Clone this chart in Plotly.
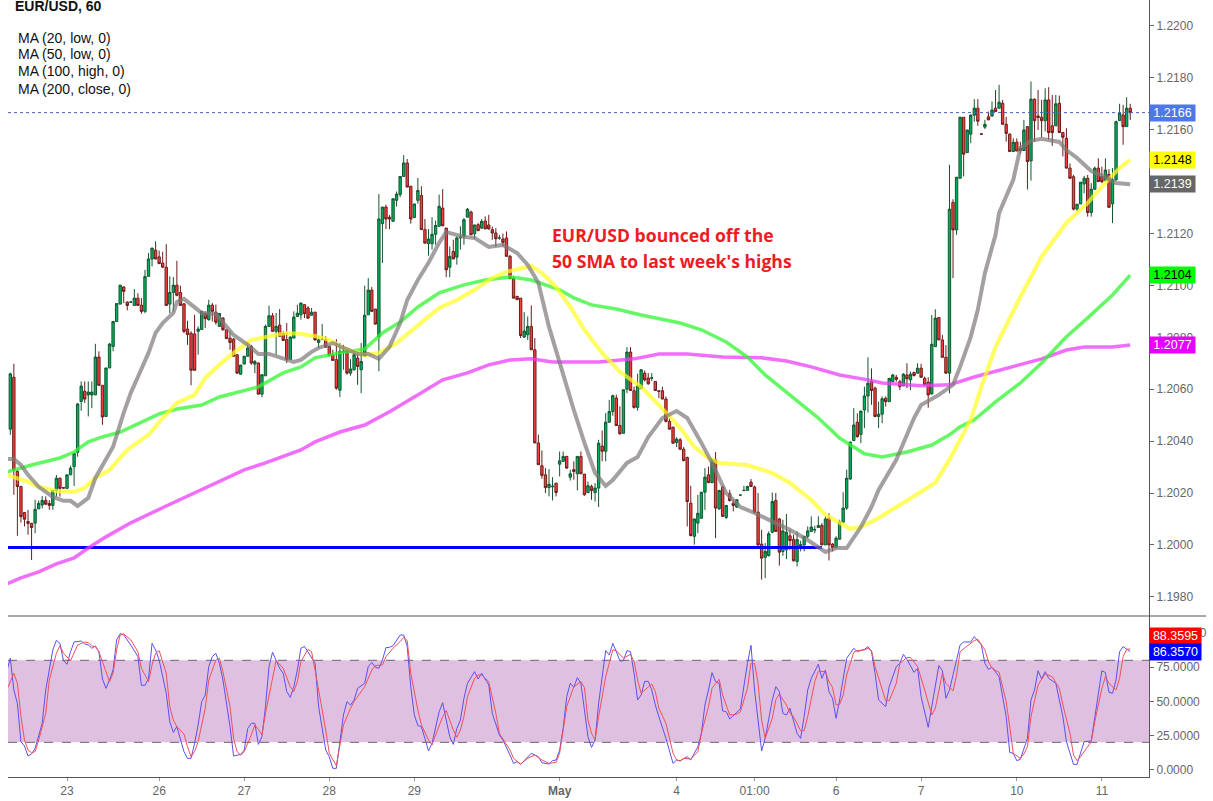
import plotly.graph_objects as go
from plotly.subplots import make_subplots

# prices are kept as pips above 1.2000, one entry per hourly bar
opens = [44.6,64.6,28.3,22.5,12.5,9,8.3,8.4,13.9,15.4,
    17.1,16,15.2,21,25.7,22.1,21.8,27,30.2,35.7,
    55.3,59.2,57.8,57.8,57.8,72.4,61.5,49.5,68.2,76.5,
    86.1,92.8,99.4,93.6,93.6,92.3,95.1,92.4,90,103.5,
    110.2,113.6,111,108.6,107,92.8,97.3,100.1,97.3,92.9,
    83.2,81.6,81.3,82.3,83,89.1,86.8,92.4,89.7,84.2,
    87.4,82.9,79.7,79.3,73.3,65.8,69.7,72.7,76.5,69.7,
    70.1,58.1,65.2,84.2,88.3,82.3,84.7,81.6,79.1,71.4,
    79.7,88,88.7,92.6,91.3,88.5,89.7,78,79.1,79,
    76.5,73.2,71.4,59.6,74.3,74.6,66.2,67.5,72,67.5,
    72.7,88.7,98.2,90.9,80.1,123.8,130.2,126.3,124.7,132.8,
    135,142,147.2,138.2,126.2,132.8,134.7,121.5,116.1,116.1,
    119.7,122.8,129.8,122.1,107,113.1,110.9,118.3,118.9,126.3,
    128.3,119.9,123.4,122.1,124.8,123.3,121.5,120.2,118.3,117.9,
    118.3,111.2,102.8,95.8,95.1,80.1,81,84.2,75.2,39.3,
    30.5,27,22.1,22.4,23.8,31.1,32.2,34.1,26.1,29,
    27.4,34.1,27.3,20.2,22.5,20.2,21.9,38.1,36.1,47.3,
    51.4,56.6,46,43,60,74.3,59.4,53,60.2,66.2,
    64.3,64.2,63,59.4,59.4,56.2,47.6,45.4,39.5,40.5,
    36.9,33.7,16.1,3.3,8.4,10.3,20.3,27,24,32.8,
    13.9,22.3,10.6,19.7,16.1,14.6,19.2,20.9,21,24.2,
    22.3,12.6,0.3,-4.8,-4.1,4.9,17.1,10,-2.5,-1.9,
    3.5,2.2,-6.4,-0.6,0,3.3,5.2,5.7,6.7,7.5,
    0,10.3,0.3,-1,2.2,8.8,14.2,25.4,40.2,47.3,
    42.6,52,57.4,63.1,60.4,49.5,50.4,56.5,55.2,63,
    64.6,62.9,61.3,65.5,63.6,66.4,66.2,68.1,64.2,62.7,
    58.2,76.4,87.6,79,72.3,66.2,132,121.4,141.3,164.8,
    151.2,158.3,165.6,168.3,158.4,161,165,165.3,168.3,168.3,
    170.2,162.1,158.3,151.6,155.2,152.9,152,161.2,148,171.8,
    165.3,164.8,163.5,171.5,161.5,161.5,170.2,158.9,156.7,145.2,
    141.9,129.4,131.4,139.1,141.3,128.1,137.1,145.2,142,140.4,
    142.8,131.4,140.7,163.5,165.7,161.2,168.3]
highs = [66.4,69.8,29,22.8,12.5,13.5,8.5,17.4,17.1,18.9,
    18.7,17.3,21.2,27,26,22.2,27,30.5,35.6,54.7,
    63,63,63,63,77.5,74.6,61.5,68.2,77.8,86.3,
    93.2,100.2,99.7,93.8,93.8,98.6,97,95.1,106,112.5,
    114.4,117,113.4,113,115.9,103.5,103.2,109.5,99.9,93.2,
    86.4,82.3,88.7,84.2,90,90,94.5,93.2,92.6,89.3,
    87.8,82.9,82.3,79.7,73.3,69.4,72.7,77.8,77.1,71.3,
    70.4,65.6,84.9,92.2,89.4,89.4,90.9,82.3,85.5,80.4,
    90,92.6,93.4,92.6,92,91.3,89.7,80.4,85.1,80.4,
    76.5,75.2,79.3,77.8,77.1,74.6,71.6,75.2,74.6,77.8,
    99.9,102.8,99.4,90.9,135.2,130.2,131.1,127.2,133.4,136.2,
    142,150.2,148.7,138.4,131.4,141.4,138.2,125.6,121.7,126.3,
    125,135,137.1,122.1,115,117.6,118.9,122.8,126,129.8,
    128.8,123.4,124,125.6,126.6,127.2,122.7,122.1,119.5,120,
    120.8,111.8,103.5,95.8,95.1,89.7,88,92.3,79.7,42.5,
    36.4,29.6,29.2,26.1,23.8,36,36,34.3,28.9,32.2,
    34.1,36,27.3,24.4,23.2,23.8,40.5,44.1,50.8,55.9,
    57.9,57.9,53.4,59.8,76.2,76.2,61,66,67.7,67.2,
    66.2,66.2,63,59.5,61,57.2,48.9,45.4,41.5,41.2,
    37.7,34,22.8,10.1,19.3,20.3,29.6,30.2,33.4,35.8,
    21.2,22.8,15.4,21.2,17.4,17.6,19.3,22.8,22.8,25.4,
    22.8,20,5.8,0.7,5.2,20.2,20,10.4,9.7,11.9,
    5.8,3.9,5.2,1.6,3.3,7.1,11,7.4,11,8.4,
    11.2,12.2,0.7,3.3,9.7,20.3,29,39.9,52.7,50.7,
    51.6,61,72.3,68,61,55.2,57.2,57.2,64.2,65.9,
    65.5,63.6,66.2,70,66.8,66.8,70,69.8,64.9,64.6,
    88.6,90.8,87.7,80.9,77,146.5,133.2,141.7,165,164.8,
    159.9,166,171.8,171.8,158.5,163.8,167,170.9,175.3,177.3,
    171.5,165,158.6,156.7,156.7,155.4,163.8,161.4,178.6,172,
    175.3,171.5,176,176.4,173.4,173.4,173.2,159,160.6,147,
    142.6,131.3,139.8,142.2,142.6,139.4,145.8,149,145.8,149,
    144.8,145.2,163.5,170,169.6,172.5,170]
lows = [42.4,19.3,3.5,8.6,7.1,3.9,-5.8,4.5,13.9,14.1,
    15.4,13.5,13.5,18.6,18.6,21.8,21.5,27,22.7,34,
    51.7,54.7,49.5,52.7,57.8,61.5,46.3,49.5,68.2,74.6,
    85.9,92.8,93.2,90.4,93.4,92.3,92.3,89.1,89.3,103.5,
    107.3,110,108.3,107,92.3,89.3,90,95.8,92.3,81.6,
    77.1,61.5,67.3,73.3,82.8,83.6,86.4,86.1,84.9,84.2,
    82.6,79.5,75.2,72.7,65.9,65.6,69.7,72.7,69.4,66.2,
    58.1,56.9,65,84.2,82.3,73.3,80.2,78.8,70.1,71.4,
    79.7,88,86.8,87.4,87,88.5,78.8,75.9,79.1,76.2,
    72.6,71.1,59.8,57,67.5,65.6,65.2,67.2,61.7,58.5,
    72.7,88.7,90,84.9,66.9,108.6,121.7,121.7,124.7,130.4,
    134,142,137.9,123.8,126,131.5,121.5,116.3,111.4,113.8,
    115.7,122.8,122.8,103.2,103.2,110.2,108,113.8,115.7,126.3,
    119.5,117.9,121,121.7,121.7,121.5,117.6,115,117.6,115,
    111.2,102.6,95.1,94.5,79.7,79.7,79,75.2,39.3,30.9,
    25.5,20,18.7,17.1,18.7,26.4,32.2,29.3,24.8,25.1,
    21,27.4,19,19.9,17.4,16.7,14.6,32.2,32.2,47,
    49.8,46,42.5,43,58.5,59.5,52.5,51.7,60.2,63,
    61.7,63.2,59.4,56.6,56.2,47.2,44.4,39,37.7,36.6,
    32.2,7.1,3.3,0.1,4.5,10,13.5,23.8,23.8,2.6,
    13.5,10.8,10,16.7,12.9,14.2,19.1,20.8,21,22.5,
    12.2,-0.6,-13.4,-12.8,-4.5,4.5,5,-8,-4.2,-5.5,
    -1.9,-6.4,-8.3,-2.5,-2.5,2.6,5,4.5,6.5,0,
    0,-6,-2.5,-1.3,2,8.6,13.5,25.1,40,41.4,
    39.2,45,51,54,49.2,45,46.9,53.3,55.2,63,
    62.9,59.7,61.3,60.4,59.7,64.9,66.2,64.6,61.3,52.9,
    58,76.4,79,72.3,66,58.4,102.8,119.5,141.3,142,
    151.2,154.8,163.1,161.5,158.2,160.3,163.8,165,167,168.3,
    162.1,155.4,151.6,151.6,151.8,150.7,152,137,140.4,155.4,
    159.9,157.1,159.3,156.1,153.8,161.5,158.9,149.7,145.2,141.1,
    128.9,128.5,131.4,135.5,126.5,126.5,136.8,140,139.4,140,
    130.1,124,140.4,163.5,154.2,161.2,163.8]
closes = [65.9,28.9,22.5,10.9,9.9,8.3,6.7,13.7,16,17.1,
    15.7,15.2,21,25.7,21.8,21.9,27,29.6,35.3,54.3,
    61.2,56.2,58.9,58.9,72.4,61.5,49.3,68.2,77.4,86.1,
    93,100.1,97.7,92.3,93.6,95.1,92.3,90,103.4,110.2,
    114.4,110.2,108.4,107,92.3,97.3,100.1,96.2,92.3,82.3,
    81.1,67.3,67.3,83.2,90,87.2,92.4,90,85.8,89.2,
    82.9,79.5,78,72.7,66.2,69.3,72.7,75.9,70.1,70.7,
    58.1,65.6,84.2,88.3,82.3,84.2,80.4,78.8,71.4,80.1,
    87.8,89.3,93.2,89.1,87.4,89.7,79,79,79.3,76.2,
    73.2,71.1,60.4,74.6,74.6,66.2,67.8,73.3,68.8,70.7,
    88.5,98.2,90,85.1,125.6,130.2,125.6,125.6,133.4,135.2,
    142,147.2,137.9,125.6,131.4,136.6,121.5,116.3,117.9,119.7,
    123.1,130.5,123,106,111.2,110.2,118.3,118.6,125.3,129.4,
    119.5,123.3,121.1,124.7,121.8,121.8,120.2,118,118.3,116.6,
    111.2,102.6,95.1,94.5,80.7,82.4,84.2,75.2,39.3,30.9,
    26.8,22.1,23.4,22.6,20.2,32.4,34.1,29.6,27.4,28.3,
    34.1,27.4,19.3,22.8,21,21.9,39.2,36.1,47.3,51.4,
    57.5,46,42.8,59.8,74.3,59.5,53,61.3,67.5,63.6,
    62.1,64.4,59.5,59.2,56.2,47.6,44.6,39.2,40.8,36.9,
    32.5,16.7,3.6,10,12.2,20.3,26.1,24,32.8,14.2,
    21,11,15.2,17.1,15.2,17.4,19.2,21,22.5,22.5,
    12.6,0,-5.1,-2.5,4.3,16.7,5.2,-2.8,5.4,4.9,
    1.7,-6.1,2,0.1,3.3,5.4,6.9,5.9,7.5,0,
    10,0,-1,2.6,8.8,14.2,25.7,39.6,46.2,41.7,
    51.6,57.4,62.3,59.5,49.5,50.4,56.3,55.2,64.2,65.5,
    63.8,61,65.8,64,65.8,65.3,68.1,64.6,61.7,57.8,
    77.3,87.4,79,72.3,66.2,129.4,121.4,141.7,164.8,150.6,
    159.9,165.6,168.3,163.3,158.3,162.1,163.8,167.6,167,170.6,
    162.1,158.6,151.6,155.2,151.8,152,159.9,147.7,171.8,163.5,
    164.7,163.5,171.5,158.9,158.9,170,158.9,157.1,145.2,141.3,
    129.4,131.3,139.8,141.3,128.1,137.1,145.2,140,140,144.5,
    130.1,140.7,163.1,166.4,161.2,168.3,166.6]

ma20_bar = [-1,1,3,5,8,12,15,17,19,22,24,29,32,34,36,39,41,43,46,47,49,52,54,58,61,63,67,70,73,78,80,82,85,87,91,94,98,101,104,107,110,112,115,118,121,123,128,131,135,139,143,146,149,152,155,159,162,165,168,170,174,177,180,184,188,191,195,198,202,206,210,215,220,225,229,230,233,236,240,243,245,250,255,257,262,266,268,271,273,275,278,279,283,285,288,291,296,298,301,305,309,312,316]
ma20 = [33.1,33.1,30.8,27,22.4,18.5,17,17,15,18.1,25.8,37.8,50.9,58.6,64.7,74,81.7,85.5,89.4,93.6,94.8,91.3,89.4,89,84,80.9,77.1,73.6,73.6,71.3,70.5,71.3,74.4,75.9,77.8,75.9,73.6,73.6,71.7,76.3,85.5,94.4,102.1,108.7,116.4,120.6,118.7,118.3,114.8,115.6,112.5,107.9,101,84,70.1,52,39.3,27.7,22.7,25,31.6,33.9,41.6,48.9,51.6,48.9,39.3,31.6,20,14.6,12.3,8.9,5.8,1.9,-1.9,-2.7,-1.2,-1.2,6.9,14.6,21.2,32.8,48.9,53.9,57.8,61.7,68.6,80.2,90.6,104.8,119.5,127.9,140.7,153,155.7,156.5,155.3,152.2,149.1,144.1,141.8,139.5,139]
ma50_bar = [-1,2,5,8,13,18,21,24,28,33,39,43,47,52,55,59,63,68,74,78,82,86,90,94,100,104,109,114,121,126,131,136,140,147,150,154,158,162,167,172,178,183,189,193,197,200,208,215,220,226,230,234,237,240,245,251,261,265,268,271,274,278,285,291,298,304,309,313,316]
ma50 = [27,25.8,24.3,22.4,20.8,20.4,22,25.8,28.9,36.6,42.4,48.9,54.7,57.8,64.4,69.4,74,79,80.5,81.7,81.3,80.5,79,75.9,73.2,74,77.8,83.6,91.3,94.4,98.3,102.9,105.2,107.5,104.8,99.4,91.7,82.9,74,66.7,60.9,53.9,45.1,37.8,33.5,31.6,30.8,27.7,23.9,17.3,11.6,8.5,6.2,6.9,10.4,15.4,23.9,32.8,40.5,48.2,60.9,76.3,95.6,111,124.1,131.8,139.5,145.3,148.4]
ma100_bar = [-1,1,6,14,18,22,26,31,37,42,47,54,59,70,77,82,86,93,100,105,110,115,121,128,134,141,147,155,159,164,171,178,189,195,202,208,213,221,228,234,237,241,246,253,260,265,268,272,278,285,291,298,304,311,316]
ma100 = [28.1,28.9,30.8,33.5,35.8,39.7,41.6,43.5,47.4,50.5,52.4,53.9,57,60.9,66.3,68.6,72.1,74,75.5,81.7,85.9,91.7,97.1,100.2,102.1,103.3,102.1,98.3,95.2,92.5,90.9,88.6,85.5,82.9,78.2,72.4,65.5,56.6,48.9,41.2,38.5,35.1,33.9,35.8,38.5,42.4,45.5,48.2,55.1,62.4,70.1,80.2,87.5,96.3,104]
ma200_bar = [-1,3,8,13,18,22,27,34,44,54,66,72,82,86,93,100,107,116,122,129,135,141,147,153,161,166,176,183,191,201,212,219,226,234,242,246,257,265,272,279,291,298,303,311,316]
ma200 = [-15,-12.7,-10.4,-7.3,-5,-1.2,3.1,8.5,15,21.2,28.9,31.6,36.6,39.7,43.5,46.2,51.3,58.6,63.6,66.3,69.4,71.3,71.7,70.5,70.5,70.5,71.7,73.6,73.6,72.4,72.1,70.9,68.6,65.5,63.6,62.4,61.3,61.7,64.7,67.4,71.7,75.1,76.3,76.3,77]

stoch_k_bar = [-1,0,1,2,3,4,5,6,7,9,10,12,13,14,15,16,17,18,20,21,22,23,24,25,26,27,28,29,30,31,32,34,36,37,38,39,40,41,42,44,45,46,47,48,49,50,51,52,53,54,55,56,57,58,59,60,62,63,65,66,67,68,69,70,71,72,73,74,76,77,78,79,80,81,82,83,84,86,87,89,90,91,92,93,94,95,96,97,98,100,101,102,103,104,105,106,107,108,110,111,112,113,114,115,116,118,119,121,122,123,124,125,126,127,128,129,131,132,133,135,136,138,139,141,142,143,144,147,149,150,152,153,154,155,156,157,158,159,160,161,162,163,164,165,166,167,168,169,170,171,172,173,174,175,176,177,178,179,180,181,182,183,185,187,188,189,191,192,194,195,196,197,198,199,200,201,202,203,205,206,208,209,210,212,213,215,216,217,218,219,220,221,222,223,224,225,226,228,229,230,231,232,233,234,236,238,239,241,242,243,244,245,247,248,250,251,252,253,255,256,257,259,260,262,263,264,265,267,268,269,271,272,274,275,276,277,279,281,282,283,284,285,287,288,289,290,291,292,293,295,297,298,300,301,303,305,306,307,308,309,310,311,312,313,314,316]
stoch_k = [72,81.5,58.3,48.5,20.5,17.3,10,11.5,15.6,33.9,58.3,87.6,94.6,92.4,79.8,77.1,86.3,93.4,94.1,92,91.2,88.8,90.5,86.3,66.3,59.5,65.6,72.9,94.9,99.5,98.5,91.2,82.7,61.7,61.7,66.8,92.4,87.6,80.2,55.9,35.1,27.3,31.5,21.7,13.2,8.3,8.3,19.3,32.7,49.8,54.6,75.4,82.7,85.1,77.8,65.6,31.5,10,11.2,14.4,30.2,33.9,33.9,18.5,24.1,46.1,75.4,85.9,74.1,70.5,57.1,52.9,60.7,72.9,88.8,90.2,86.3,77.8,46.1,14.4,9.5,1,1,19.3,40,49.8,47.3,51,59.5,63.2,75.4,78.5,74.9,74.1,80.2,89.3,89.5,90.7,98.5,98.5,90,60.7,40,32.2,31.5,13.7,19.3,42.4,49,36.3,24.1,18.5,30.2,36.3,52.2,63.2,71.7,66.3,70.5,62,41.2,25.4,21.7,10.7,4.6,5.9,3.9,12,9.5,5.1,4.1,6.6,7.1,14.4,30.2,53.4,63.2,60.2,67.3,63.2,43.7,24.1,16.3,21.7,48.5,68,87.1,83.9,92.4,86.3,79.5,79.8,87.1,86.3,70.5,51,54.6,64.6,64.6,58.3,47.3,38.8,22.9,4.6,7.1,6.6,9.5,7.1,16.8,26.6,47.3,58.3,71,64.4,63.2,43,42.4,37.1,42,44.4,77.8,91,58.3,13.7,22.9,51,60.7,57.1,41.2,40,44.9,36.3,26.6,22.9,38.8,58.3,66.8,77.1,66.8,72.9,57.1,52.2,37.6,51,81.5,88.8,86.3,88,90,86.3,70.5,51,46.1,60.7,75.4,77.8,84.4,80.7,71.2,74.1,53.4,31,46.1,76.1,72.4,52.2,58.3,81.5,91.2,93.4,93.4,97.3,91.2,77.8,73.4,74.9,68,38.8,12.7,12,6.6,7.6,22.9,51,58.3,72.4,66.3,71.7,66.8,63.2,38.8,20.5,3.9,3.9,20.5,21,38.8,58.3,72.4,71,56.6,55.9,65.6,86.3,90,86.357]
stoch_d_bar = [-1,1,2,3,4,5,6,7,8,10,11,13,14,15,17,18,19,21,22,23,24,25,27,28,29,30,31,32,34,36,37,39,40,41,42,44,45,46,47,49,50,51,52,53,55,56,58,59,60,62,63,64,65,66,68,69,70,71,72,74,75,77,79,80,81,82,84,85,86,89,90,92,93,94,96,97,100,102,103,105,106,108,110,111,112,113,115,116,118,119,120,122,123,125,126,127,128,129,131,132,133,135,137,138,141,142,144,146,148,150,152,154,155,156,157,159,161,162,163,164,165,166,168,170,171,173,175,176,177,178,181,182,183,185,187,188,189,190,192,194,195,197,198,200,201,203,205,206,208,209,210,211,212,213,215,216,217,219,220,221,223,224,225,227,228,230,231,232,233,234,235,236,238,239,241,242,243,244,246,247,248,250,251,253,254,255,256,258,260,261,263,264,266,267,268,270,272,273,275,276,277,279,280,281,282,283,285,286,287,288,290,292,294,296,297,299,300,301,302,305,306,308,309,310,312,313,314,315,316]
stoch_d = [58.3,70.5,63.2,38.8,21.7,14.4,12.4,13.2,21.7,41.2,65.6,85.1,90.7,85.1,79.8,85.1,91.2,93.4,92.9,90.5,90,86.3,71.7,64.4,70.5,87.6,98.5,99.3,94.9,86.3,74.1,64.4,76.6,85.1,87.1,70.5,46.1,36.3,31.5,26.1,16.8,9.5,13.2,20.5,44.9,65.6,80.2,81.5,71.7,46.1,22.9,13.2,10.7,13.2,25.4,32.7,29.5,25.4,41.2,68,79.8,74.1,60.7,57.1,64.4,79,88,86.3,72.9,29,12,2.9,16.8,32.7,44.9,49.8,60.7,72.9,76.1,76.6,82.7,88.8,93.7,96.8,94.4,70.5,43.7,32.7,21.7,18,25.4,38.8,43.2,29,23.7,29,38.8,53.4,66.8,69.3,69.3,64.4,41.2,26.6,14.4,8.3,4.1,8.3,10.7,7.1,4.6,5.4,12,29,46.1,60.7,64.4,60,36.3,26.6,21.7,38.8,68,87.6,87.1,81.5,84.4,79,65.6,55.9,62.7,57.1,44.9,33.9,12,7.1,6.3,8.3,7.8,13.2,26.6,46.1,59.5,66.1,54.6,40,40.5,42.4,59.5,77.8,77.8,63.2,36.3,22.9,37.6,51,55.4,47.3,41.2,38.8,28.5,28.5,38.8,64.4,72,71.7,64.4,60.2,47.3,47.8,54.6,69.3,85.9,87.1,87.6,88.8,87.1,75.4,58.3,50.5,50.5,63.2,77.8,82,82,78.5,75.4,58.3,40,44.9,70.5,63.2,57.6,69.3,86.3,90.5,94.4,95.4,87.6,79,74.1,71.2,59.5,49.8,31.5,12,8.3,11.5,16.8,38.8,62,70,68,59.5,47.3,26.6,10.7,6.6,9.5,20.5,35.1,59.5,68,63.2,58.3,66.8,82.7,88,88.3595]

support_level = -1
support_end_bar = 229
tick_bars = [16,42,66,90,114,155,188,210,233,257,284,308]
tick_labels = ["23","26","27","28","29","<b>May</b>","4","01:00","6","7","10","11"]
ma_labels = ["MA (20, low, 0)","MA (50, low, 0)","MA (100, high, 0)","MA (200, close, 0)"]


def px(pips):
    return [1.2 + p / 10000 for p in pips]


bars = list(range(len(closes)))
fig = make_subplots(rows=2, cols=1, shared_xaxes=True, vertical_spacing=0, row_heights=[616, 161])

fig.add_trace(go.Candlestick(x=bars, open=px(opens), high=px(highs), low=px(lows), close=px(closes),
                             increasing=dict(line=dict(color="#12572f", width=1), fillcolor="#00b060"),
                             decreasing=dict(line=dict(color="#6b1c1c", width=1), fillcolor="#f7403c"),
                             whiskerwidth=0), row=1, col=1)
fig.add_scatter(x=[-1, support_end_bar], y=px([support_level, support_level]), mode="lines",
                line=dict(color="#0000ff", width=3), row=1, col=1)
fig.add_scatter(x=ma200_bar, y=px(ma200), mode="lines", line=dict(color="rgba(236,60,250,0.75)", width=3.5), row=1, col=1)
fig.add_scatter(x=ma100_bar, y=px(ma100), mode="lines", line=dict(color="rgba(50,245,50,0.75)", width=3.5), row=1, col=1)
fig.add_scatter(x=ma50_bar, y=px(ma50), mode="lines", line=dict(color="rgba(255,255,30,0.72)", width=4), row=1, col=1)
fig.add_scatter(x=ma20_bar, y=px(ma20), mode="lines", line=dict(color="rgba(125,120,120,0.7)", width=4), row=1, col=1)

fig.add_scatter(x=stoch_k_bar, y=stoch_k, mode="lines", line=dict(color="#5a50f0", width=1), row=2, col=1)
fig.add_scatter(x=stoch_d_bar, y=stoch_d, mode="lines", line=dict(color="#f0505a", width=1), row=2, col=1)
# hrect/hline skip subplots with no traces, so these come after the lines
fig.add_hrect(y0=20, y1=80, fillcolor="#dfc0e0", opacity=1, line_width=0, layer="below", row=2, col=1)
for level in [20, 80]:
    fig.add_hline(y=level, line=dict(color="#6f6273", width=1, dash="dash"), layer="below", row=2, col=1)

last_price = px([closes[-1]])[0]
fig.add_hline(y=last_price, line=dict(color="#4a5fc0", width=1, dash="dot"), row=1, col=1)

tick_font = dict(family="Liberation Sans", size=12, color="#666666")
fig.update_xaxes(range=[-0.65, 321.3], showgrid=False, zeroline=False, rangeslider_visible=False)
fig.update_xaxes(showticklabels=False, ticks="", row=1, col=1)
fig.update_xaxes(tickmode="array", tickvals=tick_bars, ticktext=tick_labels, ticks="outside", ticklen=3,
                 tickcolor="#999999", tickfont=tick_font, showline=True, linecolor="#555555", linewidth=1,
                 row=2, col=1)
fig.update_yaxes(side="right", showgrid=False, zeroline=False, showline=True, linecolor="#555555", linewidth=1,
                 ticks="outside", ticklen=4, tickcolor="#666666", tickfont=tick_font, tickformat=".4f")
fig.update_yaxes(range=[1.19726, 1.22100], dtick=0.002, tick0=1.2, row=1, col=1)
fig.update_yaxes(range=[-5.34, 112.4], tickvals=[0, 25, 50, 75, 100], row=2, col=1)


def note(text, x_px, y_px, size=14, bold=False, color="#111111"):
    fig.add_annotation(xref="paper", yref="paper", x=0, y=1, xshift=x_px - 10, yshift=-y_px, text=text,
                       showarrow=False, xanchor="left", yanchor="middle",
                       font=dict(family="Liberation Sans", size=size, color=color, weight="bold" if bold else "normal"))


def tag(text, value, yref, bg, color, width, yshift=0):
    fig.add_annotation(xref="paper", x=1, xanchor="left", yref=yref, y=value, yshift=yshift, text=text,
                       showarrow=False, width=width, height=16, bgcolor=bg, borderpad=0, align="center",
                       font=dict(family="Liberation Sans", size=12.5, color=color))


note("EUR/USD, 60", 15, 6, size=14, bold=True)
for n, label in enumerate(ma_labels):
    note(label, 18, [38, 54, 71, 89][n])

for text, yval in [("EUR/USD bounced off the", 1.21195), ("50 SMA to last week's highs", 1.21094)]:
    fig.add_annotation(x=153, xshift=-3, y=yval, xref="x", yref="y", text=text, showarrow=False, xanchor="left",
                       font=dict(family="Open Sans", size=17.6, color="#ed1c24", weight=700))

tag("1.2166", last_price, "y", "#4d79e8", "#ffffff", 45)
tag("1.2148", px([ma50[-1]])[0], "y", "#ffff00", "#000000", 45)
tag("1.2139", px([ma20[-1]])[0], "y", "#666666", "#ffffff", 45)
tag("1.2104", px([ma100[-1]])[0], "y", "#00ff00", "#000000", 45)
tag("1.2077", px([ma200[-1]])[0], "y", "#e600ff", "#ffffff", 45)
tag("88.3595", stoch_d[-1], "y2", "#ff0000", "#ffffff", 51, yshift=13)
tag("86.3570", stoch_k[-1], "y2", "#0000ff", "#ffffff", 51)

fig.add_shape(type="line", xref="paper", yref="paper", x0=0, x1=1.05, y0=161 / 777, y1=161 / 777,
              line=dict(color="#555555", width=1))

fig.update_layout(width=1213, height=801, autosize=False, showlegend=False, hovermode=False,
                  margin=dict(l=8, r=64, t=0, b=24), paper_bgcolor="white", plot_bgcolor="white", boxgap=0.05)
# the page's default body margin would push the chart 8px off
fig.write_html("out.html", config=dict(displayModeBar=False), post_script="document.body.style.margin='0';")
